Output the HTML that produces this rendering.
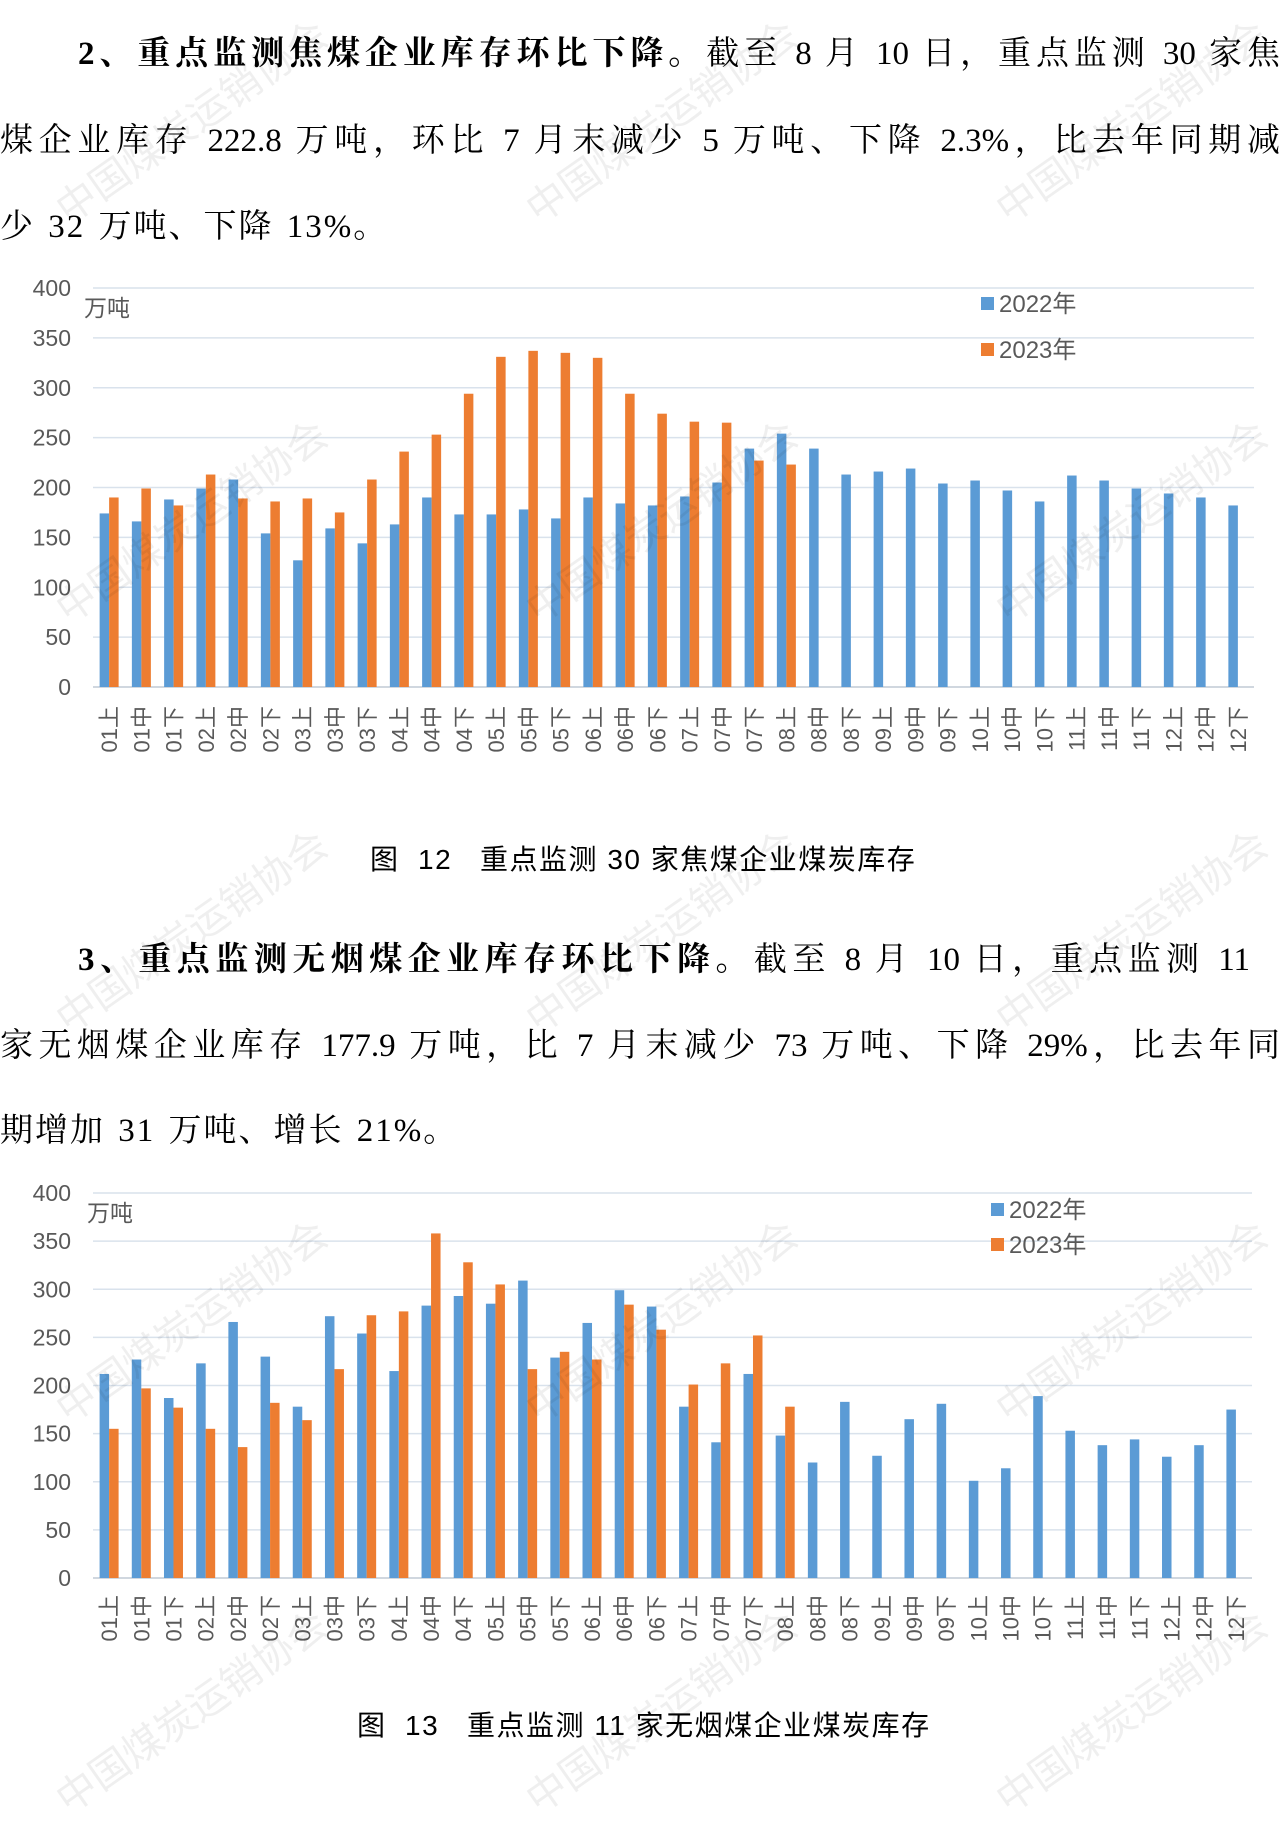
<!DOCTYPE html>
<html><head><meta charset="utf-8">
<style>
html,body{margin:0;padding:0;background:#fff;}
body{width:1280px;height:1769px;position:relative;overflow:hidden;}
.line{position:absolute;left:0;width:1280px;font-family:"Liberation Serif","Noto Serif CJK SC",serif;font-size:33px;color:#000;white-space:nowrap;line-height:40px;}
.j{text-align:justify;text-align-last:justify;}
.cap{position:absolute;font-family:"Liberation Sans","Noto Sans CJK SC",sans-serif;font-size:28px;color:#000;white-space:pre;line-height:32px;letter-spacing:1.5px;}
svg{position:absolute;left:0;top:0;}
.wm{position:absolute;font-family:"Noto Sans CJK SC",sans-serif;font-size:40px;color:#000;opacity:0.06;transform:rotate(-35deg);white-space:nowrap;pointer-events:none;}
</style></head>
<body>
<div class="line j" style="top:34px;padding-left:78px;width:1202px;"><b>2、重点监测焦煤企业库存环比下降。</b>截至 8 月 10 日，重点监测 30 家焦</div>
<div class="line j" style="top:121px;">煤企业库存 222.8 万吨，环比 7 月末减少 5 万吨、下降 2.3%，比去年同期减</div>
<div class="line" style="top:207px;letter-spacing:2px;word-spacing:3px;">少 32 万吨、下降 13%。</div>

<div class="cap" style="left:370px;top:844px;">图  12   重点监测 30 家焦煤企业煤炭库存</div>

<div class="line j" style="top:940px;padding-left:78px;width:1172px;"><b>3、重点监测无烟煤企业库存环比下降。</b>截至 8 月 10 日，重点监测 11</div>
<div class="line j" style="top:1026px;">家无烟煤企业库存 177.9 万吨，比 7 月末减少 73 万吨、下降 29%，比去年同</div>
<div class="line" style="top:1111px;letter-spacing:2px;word-spacing:3px;">期增加 31 万吨、增长 21%。</div>

<div class="cap" style="left:357px;top:1710px;">图  13   重点监测 11 家无烟煤企业煤炭库存</div>

<svg id="c1" width="1280" height="800" style="top:0"></svg>
<svg id="c2" width="1280" height="1769" style="top:0"></svg>

<div class="wm" style="left:30px;top:90px;">中国煤炭运销协会</div>
<div class="wm" style="left:500px;top:90px;">中国煤炭运销协会</div>
<div class="wm" style="left:970px;top:90px;">中国煤炭运销协会</div>
<div class="wm" style="left:30px;top:490px;">中国煤炭运销协会</div>
<div class="wm" style="left:500px;top:490px;">中国煤炭运销协会</div>
<div class="wm" style="left:970px;top:490px;">中国煤炭运销协会</div>
<div class="wm" style="left:30px;top:900px;">中国煤炭运销协会</div>
<div class="wm" style="left:500px;top:900px;">中国煤炭运销协会</div>
<div class="wm" style="left:970px;top:900px;">中国煤炭运销协会</div>
<div class="wm" style="left:30px;top:1290px;">中国煤炭运销协会</div>
<div class="wm" style="left:500px;top:1290px;">中国煤炭运销协会</div>
<div class="wm" style="left:970px;top:1290px;">中国煤炭运销协会</div>
<div class="wm" style="left:30px;top:1680px;">中国煤炭运销协会</div>
<div class="wm" style="left:500px;top:1680px;">中国煤炭运销协会</div>
<div class="wm" style="left:970px;top:1680px;">中国煤炭运销协会</div>

<script>
const categories = ["01上","01中","01下","02上","02中","02下","03上","03中","03下","04上","04中","04下","05上","05中","05下","06上","06中","06下","07上","07中","07下","08上","08中","08下","09上","09中","09下","10上","10中","10下","11上","11中","11下","12上","12中","12下"];
const yTicks = [0,50,100,150,200,250,300,350,400];
const seriesNames = ["2022年","2023年"];
const coking2022 = [174,166,188,199,208,154,127,159,144,163,190,173,173,178,169,190,184,182,191,205,239,254,239,213,216,219,204,207,197,186,212,207,199,194,190,182];
const coking2023 = [190,199,182,213,189,186,189,175,208,236,253,294,331,337,335,330,294,274,266,265,227,223];
const anth2022 = [212,227,187,223,266,230,178,272,254,215,283,293,285,309,229,265,299,282,178,141,212,148,120,183,127,165,181,101,114,189,153,138,144,126,138,175];
const anth2023 = [155,197,177,155,136,182,164,217,273,277,358,328,305,217,235,227,284,258,201,223,252,178];

const NS="http://www.w3.org/2000/svg";
function mk(svg,tag,attrs){const e=document.createElementNS(NS,tag);for(const k in attrs)e.setAttribute(k,attrs[k]);svg.appendChild(e);return e;}

function drawChart(svg,cfg,s1,s2){
  const y=v=>cfg.bottom-(v/400)*(cfg.bottom-cfg.top);
  const bw=(cfg.right-cfg.left)/categories.length;
  const x=i=>cfg.left+bw*i+bw/2;
  const barW=9.5;
  yTicks.forEach(t=>{
    const g=mk(svg,'line',{x1:cfg.left,x2:cfg.right,y1:y(t),y2:y(t),stroke:t===0?'#d0d7df':'#d9e2ec','stroke-width':t===0?2:1.5});
    
    
    const tx=mk(svg,'text',{x:71,y:y(t)+8,'text-anchor':'end','font-size':23,fill:'#595959','font-family':'Liberation Sans, sans-serif'});
    tx.textContent=t;
    
    
  });
  s1.forEach((v,i)=>{
    const r=mk(svg,'rect',{x:x(i)-barW,y:y(v),width:barW,height:y(0)-y(v),fill:'#5b9bd5'});
    
    
  });
  s2.forEach((v,i)=>{
    const r=mk(svg,'rect',{x:x(i),y:y(v),width:barW,height:y(0)-y(v),fill:'#ed7d31'});
    
    
  });
  categories.forEach((c,i)=>{
    const t=mk(svg,'text',{x:0,y:0,'text-anchor':'end','font-size':22,fill:'#595959','font-family':'Liberation Sans, Noto Sans CJK SC, sans-serif',transform:`translate(${x(i)+8},${cfg.labelTop}) rotate(-90)`});
    t.textContent=c;
    
    
  });
  const u=mk(svg,'text',{x:cfg.unitX,y:cfg.unitY,'font-size':23,fill:'#595959','font-family':'Noto Sans CJK SC, sans-serif'});
  u.textContent='万吨';
  
  
  const colors=['#5b9bd5','#ed7d31'];
  seriesNames.forEach((n,k)=>{
    const ly=cfg.legY[k];
    const sq=mk(svg,'rect',{x:cfg.legX,y:ly-6,width:13,height:13,fill:colors[k]});
    
    
    const lt=mk(svg,'text',{x:cfg.legX+18,y:ly+9,'font-size':24,fill:'#595959','font-family':'Liberation Sans, Noto Sans CJK SC, sans-serif'});
    lt.textContent=n;
    
    
  });
}
drawChart(document.getElementById('c1'),{left:93,right:1254,top:288,bottom:687,labelTop:706,unitX:84,unitY:316,legX:981,legY:[303,349]},coking2022,coking2023);
drawChart(document.getElementById('c2'),{left:93,right:1252,top:1193,bottom:1578,labelTop:1595,unitX:87,unitY:1221,legX:991,legY:[1209,1244]},anth2022,anth2023);
</script>
</body></html>
